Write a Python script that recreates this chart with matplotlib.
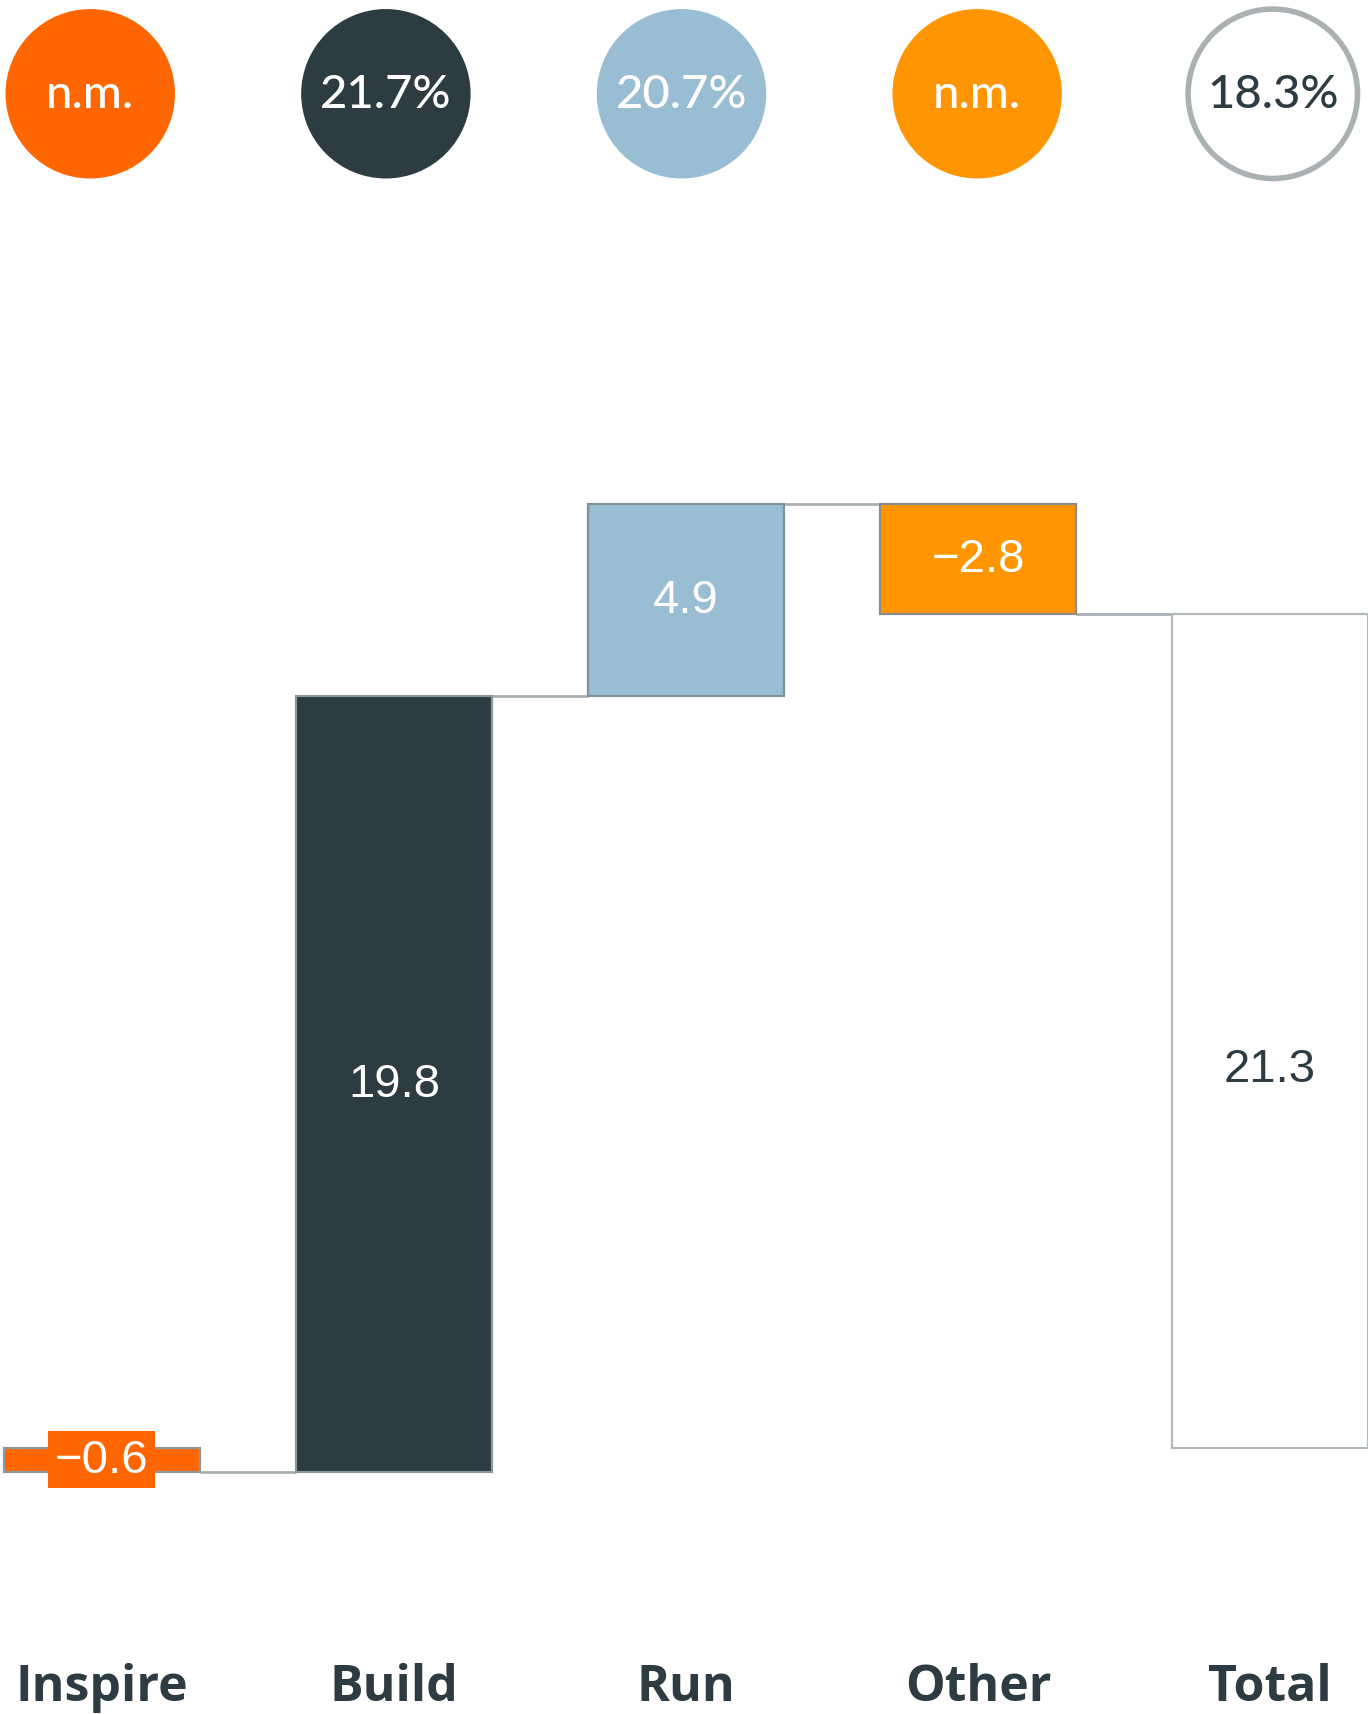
import matplotlib
matplotlib.use("Agg")
import matplotlib.pyplot as plt
import numpy as np

# Waterfall data (EUR m)
categories = ["Inspire", "Build", "Run", "Other", "Total"]
deltas = [-0.6, 19.8, 4.9, -2.8]
total_value = 21.3
value_labels = ["−0.6", "19.8", "4.9", "−2.8", "21.3"]
margin_labels = ["n.m.", "21.7%", "20.7%", "n.m.", "18.3%"]

# Colours
c_inspire = "#FF6600"
c_build = "#2D3B42"
c_run = "#99BDD2"
c_other = "#FF9500"
c_total = "#FFFFFF"
bar_colors = [c_inspire, c_build, c_run, c_other, c_total]
edge_colors = ["#8C989E", "#8C989E", "#7F929C", "#8C8C8C", "#B4B9BB"]
text_colors = ["white", "white", "white", "white", c_build]
connector_color = "#A9B0B3"

W, H, DPI = 1368, 1715, 100
fig = plt.figure(figsize=(W / DPI, H / DPI), dpi=DPI)
ax = fig.add_axes([0, 0, 1, 1])
ax.set_xlim(-0.349, 4.336)
ax.set_ylim(-6.79, 37.0)
ax.axis("off")

x = np.arange(len(categories))
width = 0.67

# Bar bottoms/heights for the waterfall
ends = np.cumsum(deltas)
starts = np.concatenate([[0.0], ends[:-1]])
bottoms = list(np.minimum(starts, ends)) + [0.0]
heights = list(np.abs(deltas)) + [total_value]

ax.bar(x, heights, bottom=bottoms, width=width, color=bar_colors,
       edgecolor=edge_colors, linewidth=1.6, zorder=2)

# Connector lines between consecutive bars
for i, lvl in enumerate(ends):
    ax.plot([x[i] + width / 2, x[i + 1] - width / 2], [lvl, lvl],
            color=connector_color, lw=2.0, zorder=1, solid_capstyle="butt")

# Value labels inside bars
value_font = ["Liberation Sans", "DejaVu Sans"]
for i in range(len(categories)):
    frac = 0.455 if i == len(categories) - 1 else 0.5
    y = bottoms[i] + heights[i] * frac
    kw = {}
    if i == 0:
        kw["bbox"] = dict(boxstyle="square,pad=0.14", fc=c_inspire, ec="none")
    ax.text(x[i], y, value_labels[i], ha="center", va="center",
            fontsize=34, color=text_colors[i], family=value_font, zorder=3, **kw)

# Margin circles above the bars
circle_x = np.linspace(-0.04, 4.01, 5)
circle_y = 34.58
fills = [c_inspire, c_build, c_run, c_other, "white"]
rings = [c_inspire, c_build, c_run, c_other, "#ABB1B3"]
ax.scatter(circle_x, [circle_y] * 5, s=122 ** 2, c=fills, edgecolors=rings,
           linewidths=[0, 0, 0, 0, 4.0], zorder=3, clip_on=False)
for i, lab in enumerate(margin_labels):
    ax.text(circle_x[i], circle_y, lab, ha="center", va="center", fontsize=34,
            color=text_colors[i], family=["Lato", "DejaVu Sans"],
            fontweight="medium", zorder=4)

# Category labels
for i, cat in enumerate(categories):
    ax.text(x[i], -6.1, cat, ha="center", va="center",
            fontsize=36, fontweight="bold", color=c_build,
            family=["Open Sans", "DejaVu Sans"])

fig.savefig("out.png", dpi=DPI, facecolor="white")
